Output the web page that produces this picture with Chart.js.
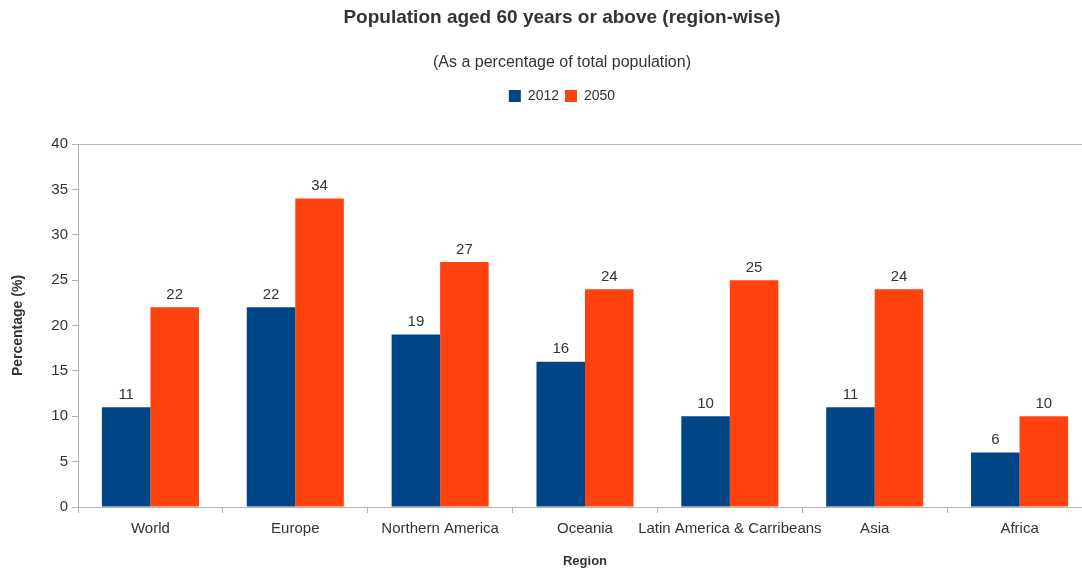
<!DOCTYPE html>
<html>
<head>
<meta charset="utf-8">
<script src="https://cdn.jsdelivr.net/npm/chart.js@4"></script>
<style>
html,body{margin:0;padding:0;background:#fff;overflow:hidden;}
#wrap{position:absolute;left:0;top:0;width:1124px;height:569px;}
</style>
</head>
<body>
<div id="wrap"><canvas id="chart"></canvas></div>
<script>
// values
const regions=["World","Europe","Northern America","Oceania","Latin America & Carribeans","Asia","Africa"];
const pct2012=[11,22,19,16,10,11,6];
const pct2050=[22,34,27,24,25,24,10];
const yTicks=[0,5,10,15,20,25,30,35,40];

const textColor="#333333";
const axisColor="#b3b3b3";
Chart.defaults.font.family="'Liberation Sans', Arial, sans-serif";
Chart.defaults.color=textColor;

const valueLabels={
    id:"valueLabels",
    afterDatasetsDraw(chart){
        const ctx=chart.ctx;
        ctx.save();
        ctx.font="15px 'Liberation Sans', Arial, sans-serif";
        ctx.fillStyle=textColor;
        ctx.textAlign="center";
        ctx.textBaseline="bottom";
        chart.data.datasets.forEach((ds,i)=>{
            chart.getDatasetMeta(i).data.forEach((bar,j)=>{
                ctx.fillText(ds.data[j],bar.x,bar.y-5);
            });
        });
        ctx.restore();
    }
};

// extra room under the legend, and header blocks nudged right like the original
const headerTweak={
    id:"headerTweak",
    beforeInit(chart){
        const fit=chart.legend.fit;
        chart.legend.fit=function(){fit.bind(chart.legend)();this.height+=31;};
    },
    afterLayout(chart){
        chart.boxes.forEach(b=>{
            if(b.position==="top"){b.left+=13;b.right+=13;}
        });
    }
};

new Chart(document.getElementById("chart"),{
    type:"bar",
    data:{
        labels:regions,
        datasets:[
            {label:"2012",data:pct2012,backgroundColor:"#004586",categoryPercentage:0.67,barPercentage:1.0},
            {label:"2050",data:pct2050,backgroundColor:"#ff420e",categoryPercentage:0.67,barPercentage:1.0}
        ]
    },
    options:{
        responsive:true,
        maintainAspectRatio:false,
        animation:false,
        layout:{padding:{left:6,right:32,top:4,bottom:0}},
        plugins:{
            title:{display:true,text:"Population aged 60 years or above (region-wise)",font:{size:19,weight:"bold"},color:textColor,padding:{top:2,bottom:24}},
            subtitle:{display:true,text:"(As a percentage of total population)",font:{size:16},color:textColor,padding:{bottom:11}},
            legend:{display:true,labels:{boxWidth:12,boxHeight:12,font:{size:14},color:textColor,padding:6}},
            tooltip:{enabled:false}
        },
        scales:{
            x:{
                grid:{offset:true,drawOnChartArea:false,color:axisColor,tickLength:6},
                border:{color:axisColor},
                ticks:{font:{size:15},color:textColor,maxRotation:0,autoSkip:false,padding:7},
                title:{display:true,text:"Region",font:{size:13,weight:"bold"},color:textColor,padding:{top:4,bottom:0}},
                afterFit:s=>{s.height=62;}
            },
            y:{
                min:0,max:40,
                afterBuildTicks:s=>{s.ticks=yTicks.map(v=>({value:v}));},
                grid:{color:c=>c.tick&&c.tick.value===40?axisColor:"rgba(0,0,0,0)",tickColor:axisColor,tickLength:6},
                border:{color:axisColor},
                ticks:{font:{size:15},color:textColor,padding:4},
                title:{display:true,text:"Percentage (%)",font:{size:14,weight:"bold"},color:textColor},
                afterFit:s=>{s.width=72;}
            }
        }
    },
    plugins:[valueLabels,headerTweak]
});
</script>
</body>
</html>
